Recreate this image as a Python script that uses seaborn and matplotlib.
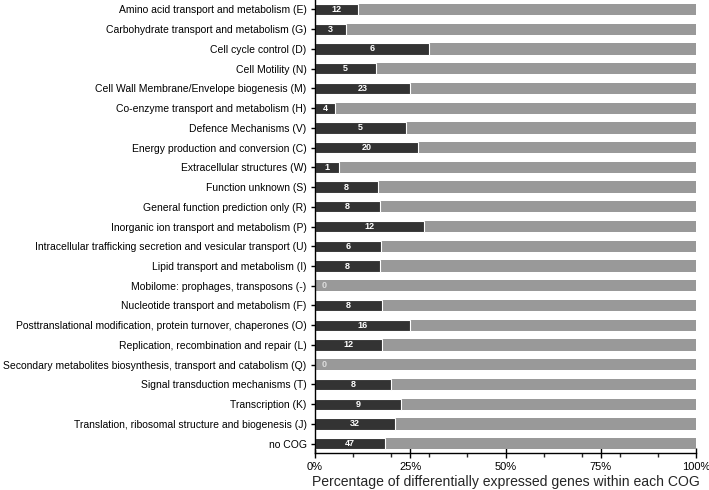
import matplotlib
matplotlib.use("Agg")
import matplotlib.pyplot as plt
import matplotlib.ticker as mticker
import pandas as pd
import seaborn as sns

categories = [
    "Amino acid transport and metabolism (E)",
    "Carbohydrate transport and metabolism (G)",
    "Cell cycle control (D)",
    "Cell Motility (N)",
    "Cell Wall Membrane/Envelope biogenesis (M)",
    "Co-enzyme transport and metabolism (H)",
    "Defence Mechanisms (V)",
    "Energy production and conversion (C)",
    "Extracellular structures (W)",
    "Function unknown (S)",
    "General function prediction only (R)",
    "Inorganic ion transport and metabolism (P)",
    "Intracellular trafficking secretion and vesicular transport (U)",
    "Lipid transport and metabolism (I)",
    "Mobilome: prophages, transposons (-)",
    "Nucleotide transport and metabolism (F)",
    "Posttranslational modification, protein turnover, chaperones (O)",
    "Replication, recombination and repair (L)",
    "Secondary metabolites biosynthesis, transport and catabolism (Q)",
    "Signal transduction mechanisms (T)",
    "Transcription (K)",
    "Translation, ribosomal structure and biogenesis (J)",
    "no COG",
]
de_counts = [12, 3, 6, 5, 23, 4, 5, 20, 1, 8, 8, 12, 6, 8, 0, 8, 16, 12, 0, 8, 9, 32, 47]
de_percent = [11.4, 8.1, 29.9, 16.1, 24.8, 5.3, 23.9, 27.1, 6.4, 16.4, 17.1, 28.7,
              17.3, 17.1, 0.0, 17.5, 25.0, 17.5, 0.0, 20.0, 22.6, 21.0, 18.4]
total_percent = [100] * len(categories)

df = pd.DataFrame({"cog": categories, "count": de_counts,
                   "de": de_percent, "total": total_percent})

sns.set_theme(style="ticks")
plt.rcParams["font.family"] = ["Liberation Sans", "DejaVu Sans"]

fig = plt.figure(figsize=(7.09, 4.90), dpi=100)
ax = fig.add_axes([0.4443, 0.0761, 0.5375, 0.9239])

dark = "#333333"
light = "#999999"

sns.barplot(data=df, x="total", y="cog", orient="h", color=light,
            saturation=1, width=0.57, linewidth=0, ax=ax)
sns.barplot(data=df, x="de", y="cog", orient="h", color=dark,
            saturation=1, width=0.57, edgecolor="white", linewidth=0.8, ax=ax)

for i, (n, p) in enumerate(zip(de_counts, de_percent)):
    if p > 0:
        ax.text(p / 2, i, str(n), ha="center", va="center", color="white",
                fontsize=6.5, fontweight="bold")
    else:
        ax.text(2.5, i, str(n), ha="center", va="center", color="#dddddd",
                fontsize=6.5, fontweight="bold")

ax.set_xlim(0, 100)
ax.set_ylim(22.46, -0.48)
ax.xaxis.set_major_locator(mticker.MultipleLocator(25))
ax.xaxis.set_minor_locator(mticker.FixedLocator([10, 20, 30, 40, 60, 70, 80, 90]))
ax.xaxis.set_major_formatter(mticker.FuncFormatter(lambda v, _: f"{v:.0f}%"))
ax.tick_params(axis="x", which="major", direction="inout", length=7, width=1,
               labelsize=8, colors="black", pad=3)
ax.tick_params(axis="x", which="minor", direction="out", length=3, width=1)
ax.tick_params(axis="y", which="major", direction="out", length=3, width=1,
               labelsize=7.5, colors="black", pad=3)

ax.set_xlabel("Percentage of differentially expressed genes within each COG",
              fontsize=10.1, labelpad=2)
ax.set_ylabel("")
for side in ["top", "right"]:
    ax.spines[side].set_visible(False)
for side in ["left", "bottom"]:
    ax.spines[side].set_color("black")
    ax.spines[side].set_linewidth(1)

fig.savefig("out.png", dpi=100)
plt.close(fig)
